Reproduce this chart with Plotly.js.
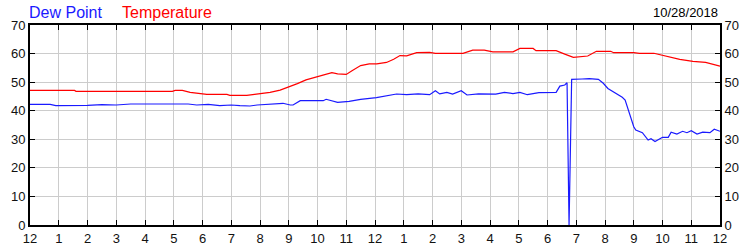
<!DOCTYPE html>
<html>
<head>
<meta charset="utf-8">
<script src="https://cdn.plot.ly/plotly-3.0.1.min.js"></script>
<style>html,body{margin:0;padding:0;background:#fff;}#chart{width:750px;height:250px;}</style>
</head>
<body>
<div id="chart"></div>
<script>
// Hours since midnight and temperature (°F)
const tempHours = [0,1.55,1.6,4.95,5.05,5.3,5.57,5.9,6.15,6.85,6.95,7.54,8.0,8.35,8.7,9.04,9.3,9.6,9.97,10.25,10.5,10.7,11.0,11.2,11.5,11.8,12.06,12.4,12.65,12.87,13.1,13.45,13.9,14.1,15.06,15.4,15.8,16.1,16.8,17.04,17.5,17.6,18.3,18.6,18.9,19.4,19.7,20.2,20.3,21.0,21.2,21.7,22.2,22.6,23.06,23.5,24];
const tempValues = [47.1,47.1,46.8,46.8,47.1,47.1,46.4,46.1,45.7,45.7,45.4,45.4,45.85,46.4,47.2,48.4,49.5,50.8,51.9,52.5,53.3,52.9,52.7,54.0,55.8,56.4,56.4,56.9,58.0,59.3,59.2,60.3,60.4,60.1,60.1,61.2,61.2,60.6,60.6,61.8,61.8,61.0,61.0,59.8,58.7,59.15,60.8,60.8,60.3,60.3,60.1,60.1,58.9,58.0,57.3,56.9,55.6];

// Hours since midnight and dew point (°F)
const dewHours = [0,0.7,0.9,1.3,1.5,2.0,2.5,3.0,3.5,5.5,5.8,6.2,6.6,7.0,7.3,7.65,7.9,8.4,8.8,9.05,9.15,9.4,10.2,10.3,10.7,11.1,11.5,12.05,12.4,12.75,13.1,13.5,13.9,14.1,14.25,14.5,14.7,15.0,15.2,15.6,16.2,16.5,16.8,17.04,17.3,17.7,18.3,18.43,18.6,18.68,18.75,18.84,19.2,19.45,19.77,19.94,20.1,20.4,20.6,20.7,21.0,21.07,21.3,21.5,21.6,21.74,21.9,22.0,22.2,22.3,22.5,22.7,22.85,23.0,23.2,23.4,23.65,23.8,24];
const dewValues = [42.2,42.2,41.8,41.8,42.0,41.9,42.1,42.0,42.35,42.35,42.0,42.2,41.8,42.0,41.8,41.65,42.0,42.2,42.6,42.0,42.0,43.5,43.5,44.0,42.9,43.3,44.0,44.6,45.1,45.85,45.6,45.9,45.6,47.0,45.9,46.4,45.8,47.0,45.5,45.9,45.8,46.4,46.0,46.4,45.6,46.3,46.4,48.6,49.0,49.8,0,51.0,51.1,51.2,51.0,49.6,47.8,46.0,44.7,43.75,34.4,33.25,32.3,29.75,30.2,29.2,30.0,30.7,30.7,32.5,31.85,32.8,32.3,33.0,31.85,32.5,32.3,33.5,32.8];

const xTickVals = [0,1,2,3,4,5,6,7,8,9,10,11,12,13,14,15,16,17,18,19,20,21,22,23,24];
const xTickText = ['12','1','2','3','4','5','6','7','8','9','10','11','12','1','2','3','4','5','6','7','8','9','10','11','12'];
const yTickVals = [0,10,20,30,40,50,60,70];

const seriesNames = ['Dew Point','Temperature'];
const dateLabel = '10/28/2018';

const traces = [
  {x: dewHours, y: dewValues, type:'scatter', mode:'lines', name: seriesNames[0],
   line:{color:'#1a1aff', width:1.2}, xaxis:'x', yaxis:'y'},
  {x: tempHours, y: tempValues, type:'scatter', mode:'lines', name: seriesNames[1],
   line:{color:'#ff0000', width:1.2}, xaxis:'x', yaxis:'y2'}
];

const fontFam = 'Liberation Sans, Arial, sans-serif';
const axisCommon = {
  showline:true, linecolor:'#000', linewidth:2,
  ticks:'inside', ticklen:5, tickcolor:'#000', tickwidth:1,
  showgrid:true, gridcolor:'#cccccc', gridwidth:1,
  zeroline:false, tickfont:{family:fontFam, size:13, color:'#111'}
};

const layout = {
  width:750, height:250,
  margin:{l:30, r:30, t:25, b:25},
  paper_bgcolor:'#fff', plot_bgcolor:'#fff',
  showlegend:false,
  xaxis: Object.assign({}, axisCommon, {
    range:[0,24], tickmode:'array', tickvals:xTickVals, ticktext:xTickText,
    mirror:'ticks'
  }),
  yaxis: Object.assign({}, axisCommon, {
    range:[0,70], tickmode:'array', tickvals:yTickVals, mirror:true
  }),
  yaxis2: Object.assign({}, axisCommon, {
    range:[0,70], tickmode:'array', tickvals:yTickVals, overlaying:'y', side:'right',
    showgrid:false
  }),
  annotations:[
    {text: seriesNames[0], xref:'paper', yref:'paper', x:-0.004, y:1.0, xanchor:'left', yanchor:'bottom', yshift:2,
     showarrow:false, font:{family:fontFam, size:16, color:'#1a1aff'}},
    {text: seriesNames[1], xref:'paper', yref:'paper', x:0.13, y:1.0, xanchor:'left', yanchor:'bottom', yshift:2,
     showarrow:false, font:{family:fontFam, size:16, color:'#ff0000'}},
    {text: dateLabel, xref:'paper', yref:'paper', x:1.0, y:1.0, xanchor:'right', yanchor:'bottom', yshift:3,
     showarrow:false, font:{family:fontFam, size:13, color:'#000'}}
  ]
};

Plotly.newPlot('chart', traces, layout, {staticPlot:true, displayModeBar:false});
</script>
</body>
</html>
